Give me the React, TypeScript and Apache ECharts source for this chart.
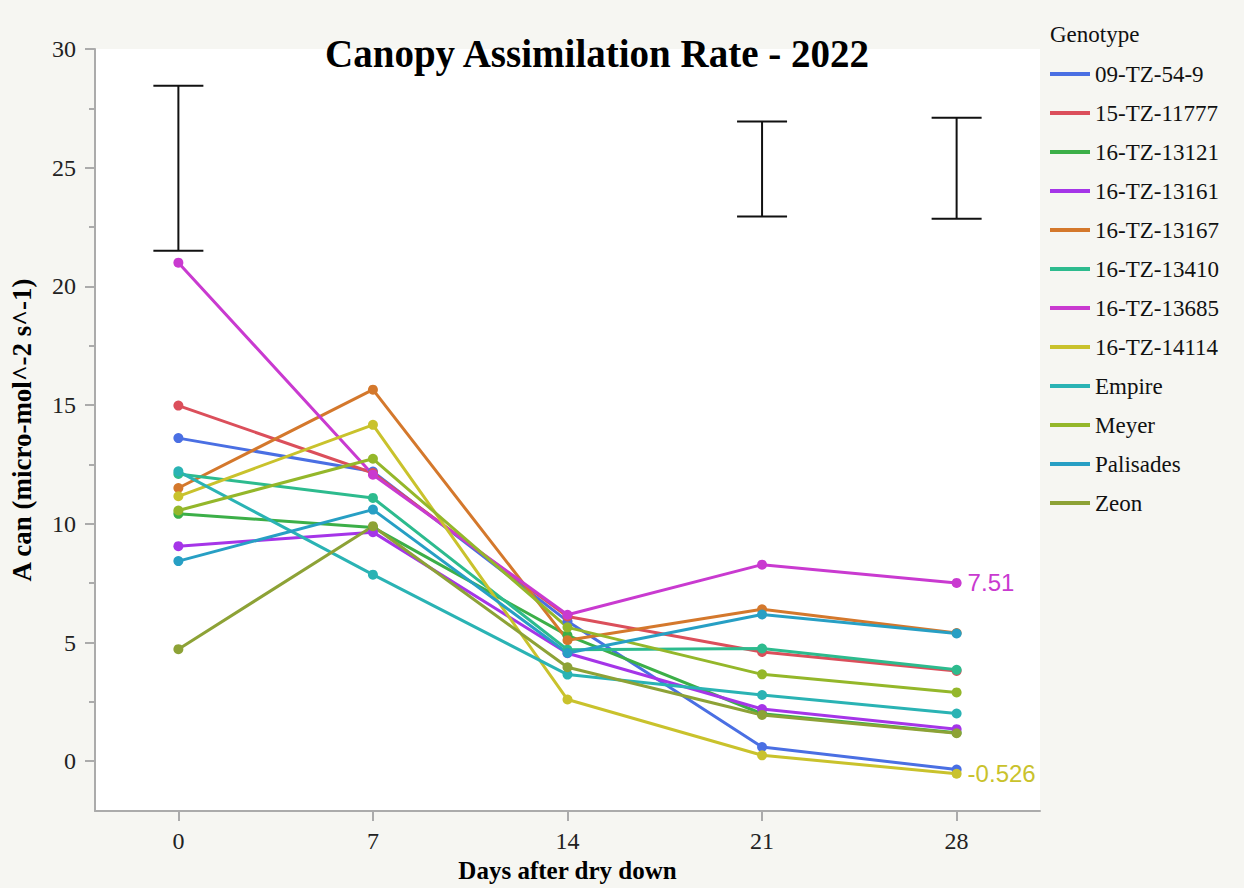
import React, { useEffect, useRef } from "react";
import * as echarts from "echarts";

const days = [0, 7, 14, 21, 28];
const genotypes = [
  "09-TZ-54-9",
  "15-TZ-11777",
  "16-TZ-13121",
  "16-TZ-13161",
  "16-TZ-13167",
  "16-TZ-13410",
  "16-TZ-13685",
  "16-TZ-14114",
  "Empire",
  "Meyer",
  "Palisades",
  "Zeon",
];
const v09TZ549 = [13.61, 12.2, 5.9, 0.6, -0.35];
const v15TZ11777 = [14.98, 12.14, 6.1, 4.6, 3.8];
const v16TZ13121 = [10.42, 9.85, 5.3, 2.0, 1.2];
const v16TZ13161 = [9.06, 9.65, 4.55, 2.2, 1.35];
const v16TZ13167 = [11.51, 15.65, 5.1, 6.4, 5.4];
const v16TZ13410 = [12.1, 11.09, 4.7, 4.75, 3.85];
const v16TZ13685 = [21.0, 12.07, 6.17, 8.28, 7.51];
const v16TZ14114 = [11.16, 14.17, 2.6, 0.25, -0.526];
const vEmpire = [12.21, 7.86, 3.65, 2.79, 2.01];
const vMeyer = [10.56, 12.74, 5.64, 3.66, 2.9];
const vPalisades = [8.43, 10.6, 4.56, 6.18, 5.38];
const vZeon = [4.72, 9.9, 3.96, 1.95, 1.18];
const seriesValues = [
  v09TZ549, v15TZ11777, v16TZ13121, v16TZ13161, v16TZ13167, v16TZ13410,
  v16TZ13685, v16TZ14114, vEmpire, vMeyer, vPalisades, vZeon,
];
const colors = [
  "#4A6FE3", "#DB4F5B", "#3CAF48", "#A535E8", "#D4782C", "#2DBB8E",
  "#C93AD0", "#C9C22C", "#2AB3B4", "#94B72A", "#279FC4", "#8DA236",
];
const labeledLast = ["16-TZ-13685", "16-TZ-14114"];

const errDays = [0, 21, 28];
const errLow = [21.5, 22.95, 22.85];
const errHigh = [28.45, 26.95, 27.1];

const xTicks = [0, 7, 14, 21, 28];
const yTicks = [0, 5, 10, 15, 20, 25, 30];
const yMinorTicks = [2.5, 7.5, 12.5, 17.5, 22.5, 27.5];

const SERIF = "'Liberation Serif', 'Times New Roman', serif";
const SANS = "'Liberation Sans', Helvetica, Arial, sans-serif";
const AXIS_GRAY = "#ababab";

export default function App() {
  const ref = useRef<HTMLDivElement>(null);
  useEffect(() => {
    if (!ref.current) return;
    const chart = echarts.init(ref.current, null, { renderer: "svg" });

    const lineSeries = genotypes.map((g, i) => ({
      type: "line",
      name: g,
      color: colors[i],
      symbol: "circle",
      symbolSize: 10,
      lineStyle: { width: 3, color: colors[i] },
      itemStyle: { color: colors[i] },
      data: days.map((d, j) => {
        const v = seriesValues[i][j];
        if (j === days.length - 1 && labeledLast.includes(g)) {
          return {
            value: [d, v],
            label: {
              show: true,
              position: "right",
              distance: 6,
              color: colors[i],
              fontFamily: SANS,
              fontSize: 24,
              formatter: (p: any) => String(p.value[1]),
            },
          };
        }
        return [d, v];
      }),
      z: 2,
    }));

    const errSeries = {
      type: "custom",
      name: "err",
      data: errDays.map((d, i) => [d, errLow[i], errHigh[i]]),
      renderItem: (params: any, api: any) => {
        const lo = api.coord([api.value(0), api.value(1)]);
        const hi = api.coord([api.value(0), api.value(2)]);
        const hw = 25;
        const st = { stroke: "#111", lineWidth: 2 };
        return {
          type: "group",
          children: [
            { type: "line", shape: { x1: lo[0], y1: lo[1], x2: hi[0], y2: hi[1] }, style: st },
            { type: "line", shape: { x1: lo[0] - hw, y1: lo[1], x2: lo[0] + hw, y2: lo[1] }, style: st },
            { type: "line", shape: { x1: hi[0] - hw, y1: hi[1], x2: hi[0] + hw, y2: hi[1] }, style: st },
          ],
        };
      },
      z: 3,
    };

    chart.setOption({
      animation: false,
      backgroundColor: "#f6f6f2",
      title: {
        text: "Canopy Assimilation Rate - 2022",
        left: 592,
        top: 29,
        textAlign: "center",
        textStyle: { fontFamily: SERIF, fontWeight: "bold", fontSize: 39, color: "#000" },
      },
      legend: {
        orient: "vertical",
        left: 1050,
        top: 62,
        padding: 0,
        data: genotypes,
        icon: "rect",
        itemWidth: 40,
        itemHeight: 4,
        itemGap: 15,
        textStyle: { fontFamily: SERIF, fontSize: 23, color: "#111", lineHeight: 24 },
      },
      graphic: [
        {
          type: "text",
          left: 1050,
          top: 23,
          style: { text: "Genotype", fontFamily: SERIF, fontSize: 23, fill: "#111" },
        },
      ],
      grid: {
        left: 93,
        top: 49,
        width: 947,
        height: 765,
        show: true,
        backgroundColor: "#ffffff",
        borderWidth: 0,
      },
      xAxis: {
        type: "value",
        min: -3,
        max: 31,
        name: "Days after dry down",
        nameLocation: "middle",
        nameGap: 46,
        nameTextStyle: { fontFamily: SERIF, fontWeight: "bold", fontSize: 25, color: "#000" },
        axisLine: { show: true, onZero: false, lineStyle: { color: AXIS_GRAY, width: 2 } },
        axisTick: { show: true, customValues: xTicks, length: 10, lineStyle: { color: AXIS_GRAY, width: 2 } },
        axisLabel: { customValues: xTicks, fontFamily: SERIF, fontSize: 24, color: "#222", margin: 18 },
        splitLine: { show: false },
      },
      yAxis: [
        {
          type: "value",
          min: -2.1,
          max: 30,
          name: "A can (micro-mol^-2 s^-1)",
          nameLocation: "middle",
          nameGap: 60,
          nameRotate: 90,
          nameTextStyle: { fontFamily: SERIF, fontWeight: "bold", fontSize: 27, color: "#000" },
          axisLine: { show: true, onZero: false, lineStyle: { color: AXIS_GRAY, width: 2 } },
          axisTick: { show: true, customValues: yTicks, length: 10, lineStyle: { color: AXIS_GRAY, width: 2 } },
          axisLabel: { customValues: yTicks, fontFamily: SERIF, fontSize: 24, color: "#222", margin: 19 },
          splitLine: { show: false },
        },
        {
          type: "value",
          min: -2.1,
          max: 30,
          position: "left",
          offset: 0,
          axisLine: { show: false, onZero: false },
          axisTick: { show: true, customValues: yMinorTicks, length: 6, lineStyle: { color: AXIS_GRAY, width: 2 } },
          axisLabel: { show: false },
          splitLine: { show: false },
        },
      ],
      series: [...lineSeries, errSeries],
    });
    return () => chart.dispose();
  }, []);
  return (
    <div
      ref={ref}
      style={{ position: "absolute", left: 0, top: 0, width: 1244, height: 888 }}
    />
  );
}
